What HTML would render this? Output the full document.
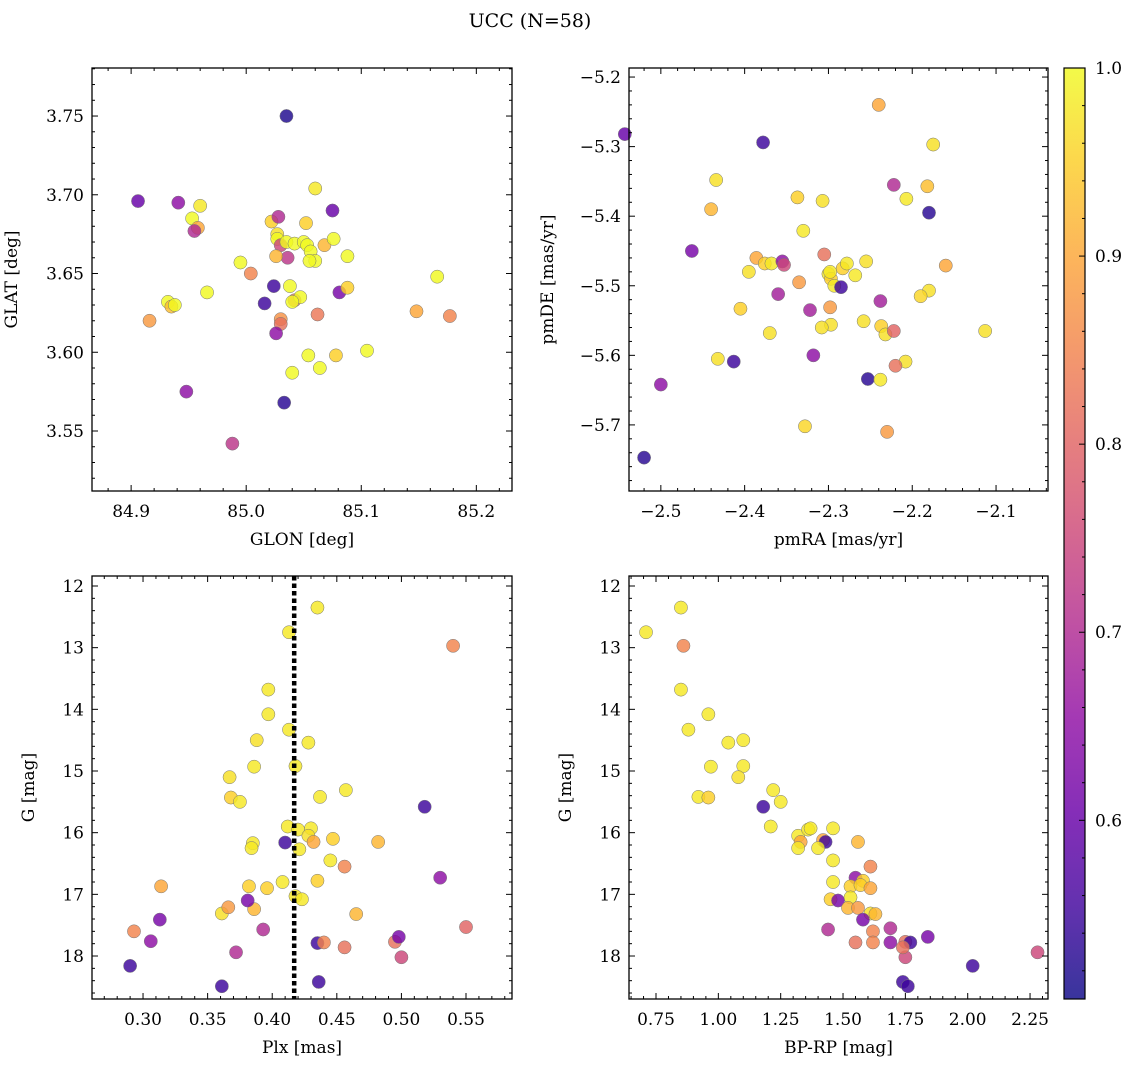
<!DOCTYPE html>
<html><head><meta charset="utf-8"><style>
html,body{margin:0;padding:0;background:#fff}
svg{display:block;font-family:"DejaVu Serif","Liberation Serif",serif}
</style></head><body>
<svg id="fig" width="1136" height="1067" viewBox="0 0 1136 1067">
<text x="530" y="27" font-size="19" text-anchor="middle">UCC (N=58)</text>
</svg>
<script>
// ---- data ----
const p1X=[85.035,84.906,84.941,84.953,84.960,84.958,84.955,85.060,85.075,85.022,85.028,85.052,85.027,85.027,85.030,85.035,85.042,85.050,85.053,85.056,85.060,85.055,85.068,85.076,85.036,85.026,84.995,85.004,85.024,85.038,84.966,84.932,84.935,84.938,84.916,85.016,85.042,85.047,85.040,85.081,85.088,85.088,85.166,85.148,85.177,85.062,85.030,85.030,85.026,85.054,85.078,85.105,85.064,85.040,84.948,85.033,84.988];
const p1Y=[3.750,3.696,3.695,3.685,3.693,3.679,3.677,3.704,3.690,3.683,3.686,3.682,3.675,3.672,3.668,3.670,3.669,3.670,3.668,3.664,3.658,3.658,3.668,3.672,3.660,3.661,3.657,3.650,3.642,3.642,3.638,3.632,3.629,3.630,3.620,3.631,3.633,3.635,3.632,3.638,3.641,3.661,3.648,3.626,3.623,3.624,3.621,3.618,3.612,3.598,3.598,3.601,3.590,3.587,3.575,3.568,3.542];
const p1C=[0.52,0.6,0.65,1.0,0.98,0.9,0.7,0.98,0.6,0.95,0.7,0.95,0.97,1.0,0.75,1.0,1.0,1.0,1.0,1.0,1.0,1.0,0.92,1.0,0.72,0.92,1.0,0.85,0.55,1.0,1.0,1.0,0.93,1.0,0.88,0.55,0.82,1.0,1.0,0.62,0.95,1.0,1.0,0.9,0.85,0.83,0.87,0.82,0.65,1.0,0.95,1.0,1.0,1.0,0.65,0.53,0.72];
const p2X=[-2.543,-2.378,-2.240,-2.175,-2.222,-2.182,-2.207,-2.180,-2.434,-2.440,-2.337,-2.307,-2.330,-2.463,-2.386,-2.376,-2.368,-2.355,-2.353,-2.335,-2.305,-2.300,-2.297,-2.298,-2.283,-2.278,-2.268,-2.255,-2.293,-2.285,-2.395,-2.160,-2.180,-2.190,-2.360,-2.405,-2.322,-2.298,-2.297,-2.308,-2.258,-2.238,-2.237,-2.232,-2.222,-2.208,-2.220,-2.113,-2.370,-2.432,-2.413,-2.318,-2.253,-2.238,-2.500,-2.328,-2.230,-2.520];
const p2Y=[-5.282,-5.294,-5.240,-5.297,-5.355,-5.357,-5.375,-5.395,-5.348,-5.390,-5.373,-5.378,-5.421,-5.450,-5.460,-5.468,-5.468,-5.465,-5.470,-5.495,-5.455,-5.483,-5.490,-5.480,-5.475,-5.468,-5.485,-5.465,-5.500,-5.502,-5.480,-5.471,-5.507,-5.515,-5.512,-5.533,-5.535,-5.531,-5.556,-5.560,-5.551,-5.522,-5.558,-5.570,-5.565,-5.609,-5.615,-5.565,-5.568,-5.605,-5.609,-5.600,-5.634,-5.635,-5.642,-5.702,-5.710,-5.747];
const p2C=[0.6,0.55,0.9,0.97,0.7,0.93,0.98,0.53,0.97,0.92,0.95,0.97,0.98,0.62,0.9,0.95,0.98,0.65,0.75,0.88,0.82,0.98,0.95,0.98,0.95,0.98,0.98,0.97,0.98,0.55,0.97,0.9,0.97,0.96,0.68,0.95,0.68,0.88,0.97,0.97,0.97,0.68,0.95,0.97,0.8,0.97,0.82,0.97,0.97,0.97,0.55,0.65,0.53,0.98,0.65,0.96,0.88,0.53];
const p3X=[0.435,0.413,0.540,0.397,0.397,0.413,0.388,0.428,0.418,0.386,0.367,0.368,0.375,0.437,0.457,0.518,0.412,0.420,0.430,0.428,0.432,0.447,0.482,0.385,0.384,0.410,0.421,0.445,0.456,0.530,0.408,0.435,0.382,0.396,0.314,0.418,0.423,0.465,0.361,0.366,0.386,0.381,0.313,0.293,0.306,0.393,0.372,0.435,0.440,0.456,0.495,0.498,0.500,0.550,0.290,0.361,0.436];
const p3Y=[12.35,12.75,12.97,13.68,14.08,14.33,14.50,14.54,14.92,14.93,15.10,15.43,15.50,15.42,15.31,15.58,15.90,15.95,15.93,16.05,16.15,16.10,16.15,16.17,16.25,16.16,16.27,16.45,16.55,16.73,16.80,16.78,16.87,16.90,16.87,17.03,17.08,17.32,17.31,17.21,17.24,17.10,17.41,17.60,17.76,17.57,17.94,17.79,17.78,17.86,17.77,17.69,18.02,17.53,18.16,18.49,18.42];
const p3C=[0.98,0.98,0.85,0.98,0.98,0.98,0.97,0.98,0.98,0.98,0.97,0.95,0.98,0.98,0.98,0.55,0.98,0.98,0.98,0.97,0.9,0.95,0.92,0.98,0.98,0.55,0.98,0.98,0.85,0.65,0.98,0.95,0.95,0.95,0.9,0.98,0.98,0.92,0.97,0.88,0.92,0.62,0.62,0.85,0.65,0.7,0.7,0.55,0.85,0.82,0.82,0.62,0.75,0.8,0.55,0.55,0.55];
const p4X=[0.71,0.85,0.86,0.85,0.88,0.96,1.04,1.10,0.97,1.10,1.08,0.92,0.96,1.22,1.25,1.18,1.21,1.32,1.36,1.37,1.46,1.33,1.32,1.42,1.43,1.40,1.56,1.46,1.61,1.55,1.58,1.46,1.53,1.57,1.61,1.53,1.45,1.48,1.52,1.56,1.61,1.63,1.58,1.44,1.69,1.62,1.55,1.62,1.69,1.75,1.77,1.84,1.75,1.74,2.02,2.28,1.74,1.76];
const p4Y=[12.75,12.35,12.97,13.68,14.33,14.08,14.54,14.50,14.93,14.92,15.10,15.42,15.43,15.31,15.50,15.58,15.90,16.05,15.95,15.93,15.93,16.15,16.25,16.12,16.15,16.25,16.15,16.45,16.55,16.73,16.78,16.80,16.87,16.85,16.90,17.05,17.08,17.10,17.22,17.22,17.31,17.32,17.41,17.57,17.55,17.60,17.78,17.78,17.78,17.77,17.78,17.69,18.02,17.86,18.16,17.94,18.42,18.49];
const p4C=[0.98,0.98,0.85,0.98,0.98,0.98,0.98,0.98,0.98,0.98,0.97,0.98,0.95,0.98,0.98,0.55,0.98,0.98,0.98,0.98,0.98,0.9,0.98,0.9,0.55,0.98,0.92,0.98,0.85,0.65,0.95,0.98,0.95,0.95,0.9,0.98,0.95,0.62,0.92,0.88,0.97,0.92,0.62,0.7,0.7,0.85,0.82,0.85,0.65,0.82,0.55,0.62,0.75,0.82,0.55,0.75,0.55,0.55];
const plxLine=[0.417];
const cbTicks=[0.6,0.7,0.8,0.9,1.0];

// ---- helpers ----
const NS="http://www.w3.org/2000/svg";
const svg=document.getElementById('fig');
function mk(t,a,p){const e=document.createElementNS(NS,t);for(const k in a)e.setAttribute(k,a[k]);(p||svg).appendChild(e);return e;}
const VMIN=0.505,VMAX=1.0;
const stops=[[13,8,135],[65,4,157],[106,0,168],[143,13,164],[177,42,144],[204,71,120],[225,100,98],[242,132,75],[252,166,54],[252,206,37],[240,249,33]];
function plasma(t){t=Math.max(0,Math.min(1,t))*10;const i=Math.min(9,Math.floor(t)),f=t-i;const a=stops[i],b=stops[i+1];return 'rgb('+a.map((v,k)=>Math.round(v+(b[k]-v)*f)).join(',')+')';}
function cmap(v){return plasma((v-VMIN)/(VMAX-VMIN));}

function panel(o){
  const g=mk('g',{});
  
  
  const sx=v=>o.L+(v-o.x0)/(o.x1-o.x0)*(o.R-o.L);
  const sy=v=>o.inv? o.T+(v-o.y0)/(o.y1-o.y0)*(o.B-o.T) : o.B-(v-o.y0)/(o.y1-o.y0)*(o.B-o.T);
  const pg=mk('g',{},g);
  
  
  for(let i=0;i<o.xs.length;i++){
    const c=mk('circle',{cx:sx(o.xs[i]),cy:sy(o.ys[i]),r:6.6,fill:cmap(o.cs[i]),'fill-opacity':0.82,stroke:'#777','stroke-width':0.5},pg);
    
    
  }
  if(o.vline){const l=mk('line',{x1:sx(o.vline),x2:sx(o.vline),y1:o.T,y2:o.B,stroke:'#000','stroke-width':4.5,'stroke-dasharray':'4.5,3'},g);
    
    }
  const fr=mk('rect',{x:o.L,y:o.T,width:o.R-o.L,height:o.B-o.T,fill:'none',stroke:'#000','stroke-width':1.3},g);
  
  
  const eps=1e-9;
  for(let v=Math.ceil(o.x0/o.xm-eps)*o.xm;v<=o.x1+eps;v+=o.xm){
    const x=sx(v);const maj=Math.abs(v/o.xM-Math.round(v/o.xM))<1e-4;const len=maj?6:3;
    mk('line',{x1:x,x2:x,y1:o.B,y2:o.B-len,stroke:'#000','stroke-width':1},g);
    mk('line',{x1:x,x2:x,y1:o.T,y2:o.T+len,stroke:'#000','stroke-width':1},g);
    if(maj){const t=mk('text',{x:x,y:o.B+26,'font-size':17,'text-anchor':'middle'},g);t.textContent=(Math.round(v/o.xM)*o.xM).toFixed(o.xd).replace('-','\u2212');
      
      }
  }
  for(let v=Math.ceil(Math.min(o.y0,o.y1)/o.ym-eps)*o.ym;v<=Math.max(o.y0,o.y1)+eps;v+=o.ym){
    const y=sy(v);const maj=Math.abs(v/o.yM-Math.round(v/o.yM))<1e-4;const len=maj?6:3;
    mk('line',{x1:o.L,x2:o.L+len,y1:y,y2:y,stroke:'#000','stroke-width':1},g);
    mk('line',{x1:o.R,x2:o.R-len,y1:y,y2:y,stroke:'#000','stroke-width':1},g);
    if(maj){const t=mk('text',{x:o.L-8,y:y+6,'font-size':17,'text-anchor':'end'},g);t.textContent=(Math.round(v/o.yM)*o.yM).toFixed(o.yd).replace('-','\u2212');
      
      }
  }
  const xl=mk('text',{x:(o.L+o.R)/2,y:o.B+54,'font-size':17,'text-anchor':'middle'},g);xl.textContent=o.xlab;
  
  
  const yx=o.L-o.ylo,yy=(o.T+o.B)/2;
  const yl=mk('text',{x:yx,y:yy,'font-size':17,'text-anchor':'middle',transform:'rotate(-90 '+yx+' '+yy+')'},g);yl.textContent=o.ylab;
  
  
}

panel({name:'glon-glat-panel',L:92,R:512,T:68,B:491,x0:84.866,x1:85.231,y0:3.5119,y1:3.7805,xm:0.02,xM:0.1,ym:0.01,yM:0.05,xd:1,yd:2,xs:p1X,ys:p1Y,cs:p1C,xlab:'GLON [deg]',ylab:'GLAT [deg]',ylo:75});
panel({name:'pm-panel',L:629,R:1048,T:68,B:491,x0:-2.538,x1:-2.038,y0:-5.795,y1:-5.187,xm:0.02,xM:0.1,ym:0.02,yM:0.1,xd:1,yd:1,xs:p2X,ys:p2Y,cs:p2C,xlab:'pmRA [mas/yr]',ylab:'pmDE [mas/yr]',ylo:76});
panel({name:'plx-g-panel',L:92,R:512,T:576,B:999,x0:0.2605,x1:0.5856,y0:11.838,y1:18.697,inv:true,xm:0.01,xM:0.05,ym:0.2,yM:1,xd:2,yd:0,xs:p3X,ys:p3Y,cs:p3C,xlab:'Plx [mas]',ylab:'G [mag]',ylo:58,vline:plxLine[0]});
panel({name:'cmd-panel',L:629,R:1048,T:576,B:999,x0:0.6417,x1:2.322,y0:11.838,y1:18.697,inv:true,xm:0.05,xM:0.25,ym:0.2,yM:1,xd:2,yd:0,xs:p4X,ys:p4Y,cs:p4C,xlab:'BP-RP [mag]',ylab:'G [mag]',ylo:58});

(function(){
  const L=1064,R=1085,T=68,B=999;
  const g=mk('g',{});
  
  
  const defs=mk('defs',{},g);
  const lg=mk('linearGradient',{id:'cbg',x1:0,y1:1,x2:0,y2:0},defs);
  for(let i=0;i<=20;i++){mk('stop',{offset:i/20,'stop-color':plasma(i/20),'stop-opacity':0.82},lg);}
  mk('rect',{x:L,y:T,width:R-L,height:B-T,fill:'url(#cbg)',stroke:'#000','stroke-width':1.2},g);
  const sy=v=>B-(v-VMIN)/(VMAX-VMIN)*(B-T);
  for(let v=0.52;v<=1.0001;v+=0.02){const y=sy(v);const maj=cbTicks.some(t=>Math.abs(t-v)<1e-4);
    mk('line',{x1:R,x2:R-(maj?6:3),y1:y,y2:y,stroke:'#000','stroke-width':1},g);}
  cbTicks.forEach(v=>{const t=mk('text',{x:R+10,y:sy(v)+6,'font-size':17},g);t.textContent=v.toFixed(1);
    
    });
})();
</script>
</body></html>
